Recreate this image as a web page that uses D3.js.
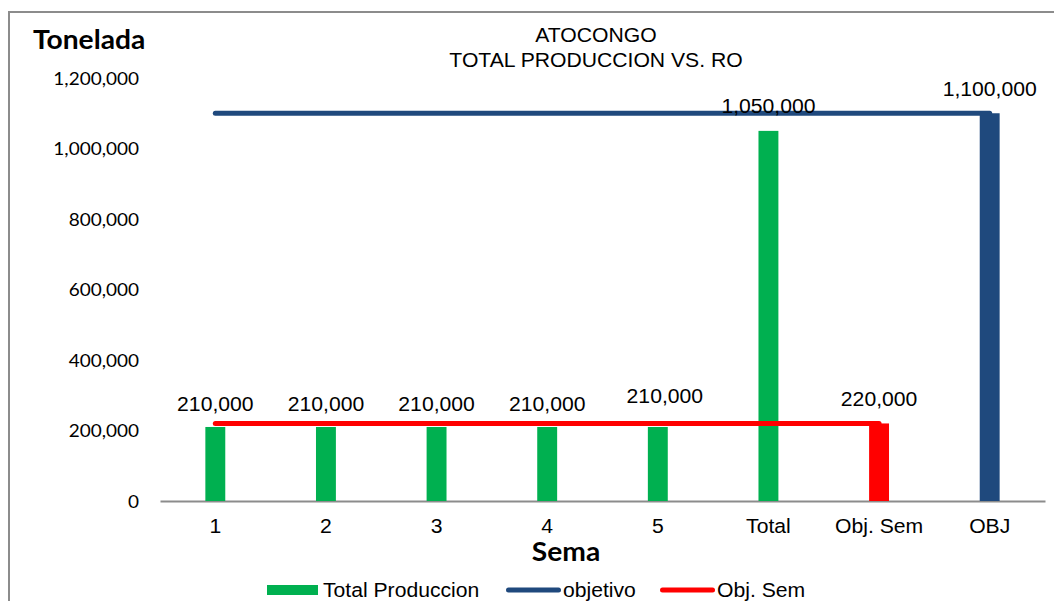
<!DOCTYPE html>
<html>
<head>
<meta charset="utf-8">
<script src="https://cdn.jsdelivr.net/npm/d3@7"></script>
<style>
  html, body { margin: 0; padding: 0; background: #fff; }
  svg { display: block; }
</style>
</head>
<body>
<svg id="chart" width="1054" height="601"></svg>
<script>
// Weekly production vs. targets (toneladas)
const categories = ["1", "2", "3", "4", "5", "Total", "Obj. Sem", "OBJ"];
const totalProduccion = [210000, 210000, 210000, 210000, 210000, 1050000, null, null];
const objSemColumn = [null, null, null, null, null, null, 220000, null];
const objetivoColumn = [null, null, null, null, null, null, null, 1100000];
const objetivoLine = [1100000, 1100000, 1100000, 1100000, 1100000, 1100000, 1100000, 1100000];
const objSemLine = [220000, 220000, 220000, 220000, 220000, 220000, 220000, null];
const yTicks = [0, 200000, 400000, 600000, 800000, 1000000, 1200000];
const titleLines = ["ATOCONGO", "TOTAL PRODUCCION VS. RO"];
const legendItems = ["Total Produccion", "objetivo", "Obj. Sem"];

const GREEN = "#00B050", BLUE = "#1F497D", RED = "#FF0000", AXIS = "#8C8C8C";
const ARIAL = "'Liberation Sans', Arial, sans-serif";
const CALIBRI = "Lato, 'Open Sans', sans-serif";
const SX = 1.085; // horizontal text stretch

const svg = d3.select("#chart");

// outer frame
svg.append("rect")
  .attr("x", 9).attr("y", 12).attr("width", 1100).attr("height", 700)
  .attr("fill", "#fff").attr("stroke", AXIS).attr("stroke-width", 2);

const x = d3.scaleBand().domain(categories).range([160, 1045]).padding(0);
const y = d3.scaleLinear().domain([0, 1200000]).range([501, 78]);
const cx = c => x(c) + x.bandwidth() / 2;
const barW = x.bandwidth() * 0.18;

function stretchedText(g, tx, ty, str, anchor, font, size, weight) {
  return g.append("text")
    .attr("transform", `translate(${tx},${ty}) scale(${SX},1)`)
    .attr("text-anchor", anchor)
    .attr("font-family", font)
    .attr("font-size", size)
    .attr("font-weight", weight || "normal")
    .attr("fill", "#000")
    .text(str);
}

// title
stretchedText(svg, 596, 42, titleLines[0], "middle", ARIAL, 19.5);
stretchedText(svg, 596, 67, titleLines[1], "middle", ARIAL, 19.5);

// axis titles
stretchedText(svg, 33, 49, "Tonelada", "start", CALIBRI, 26, "bold");
stretchedText(svg, 566, 561, "Sema", "middle", CALIBRI, 26, "bold");

// y axis (labels only)
const yAxis = svg.append("g")
  .attr("transform", "translate(139,0)")
  .call(d3.axisLeft(y).tickValues(yTicks).tickFormat(d3.format(",")).tickSize(0).tickPadding(0));
yAxis.select(".domain").remove();
yAxis.selectAll("text")
  .attr("font-family", CALIBRI).attr("font-size", 17.5).attr("fill", "#000")
  .attr("x", 0).attr("dy", "0.36em")
  .attr("transform", `scale(${SX},1)`);

// x axis
const xAxis = svg.append("g")
  .attr("transform", "translate(0,501)")
  .call(d3.axisBottom(x).tickSize(0).tickPadding(0));
xAxis.select(".domain").attr("stroke", AXIS).attr("stroke-width", 2);
xAxis.selectAll(".tick text").each(function () {
  d3.select(this)
    .attr("y", 0).attr("dy", 0)
    .attr("font-family", ARIAL).attr("font-size", 19.5).attr("fill", "#000")
    .attr("transform", `translate(0,32) scale(${SX},1)`);
});

// columns
function columns(values, color) {
  const data = categories.map((c, i) => ({ c, v: values[i] })).filter(d => d.v != null);
  svg.append("g").selectAll("rect").data(data).join("rect")
    .attr("x", d => cx(d.c) - barW / 2)
    .attr("width", barW)
    .attr("y", d => y(d.v))
    .attr("height", d => y(0) - y(d.v))
    .attr("fill", color);
  return data;
}
const greenBars = columns(totalProduccion, GREEN);
const redBars = columns(objSemColumn, RED);
const blueBars = columns(objetivoColumn, BLUE);

// target lines
function targetLine(values, color) {
  const data = categories.map((c, i) => ({ c, v: values[i] })).filter(d => d.v != null);
  svg.append("path")
    .attr("d", d3.line().x(d => cx(d.c)).y(d => y(d.v))(data))
    .attr("fill", "none").attr("stroke", color)
    .attr("stroke-width", 5).attr("stroke-linecap", "round").attr("stroke-linejoin", "round");
}
targetLine(objetivoLine, BLUE);
targetLine(objSemLine, RED);

// data labels
const fmt = d3.format(",");
const nudge = { "5": [7, -8], "Total": [0, -2] };
const labelG = svg.append("g");
[...greenBars, ...redBars, ...blueBars].forEach(d => {
  const n = nudge[d.c] || [0, 0];
  const lift = d.c === "Obj. Sem" || d.c === "OBJ" ? 17 : 16;
  stretchedText(labelG, cx(d.c) + n[0], y(d.v) - lift + n[1], fmt(d.v), "middle", ARIAL, 19.5);
});

// legend
const lg = svg.append("g");
lg.append("rect").attr("x", 267).attr("y", 585).attr("width", 51).attr("height", 10).attr("fill", GREEN);
stretchedText(lg, 323, 597, legendItems[0], "start", ARIAL, 19.5);
lg.append("line").attr("x1", 508.5).attr("x2", 558.5).attr("y1", 590).attr("y2", 590)
  .attr("stroke", BLUE).attr("stroke-width", 5).attr("stroke-linecap", "round");
stretchedText(lg, 563, 597, legendItems[1], "start", ARIAL, 19.5);
lg.append("line").attr("x1", 662.5).attr("x2", 712.5).attr("y1", 590).attr("y2", 590)
  .attr("stroke", RED).attr("stroke-width", 5).attr("stroke-linecap", "round");
stretchedText(lg, 717, 597, legendItems[2], "start", ARIAL, 19.5);
</script>
</body>
</html>
